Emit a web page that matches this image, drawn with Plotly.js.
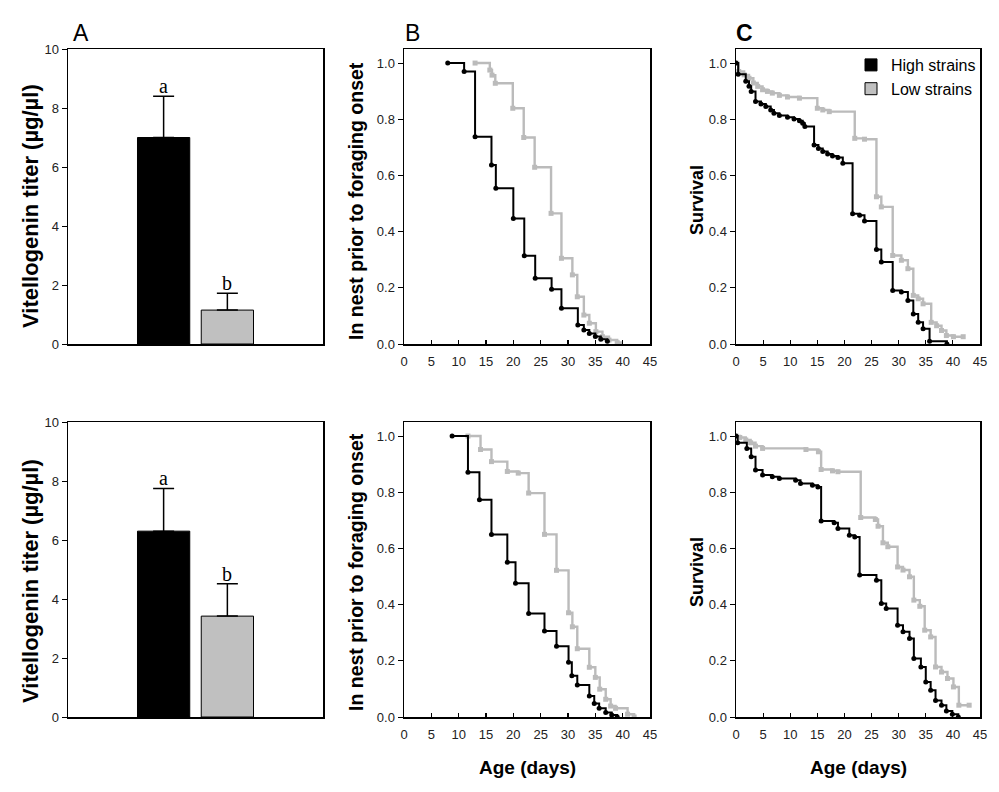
<!DOCTYPE html>
<html>
<head>
<meta charset="utf-8">
<script src="https://cdn.plot.ly/plotly-3.0.1.min.js"></script>
<style>html,body{margin:0;padding:0;background:#fff;}#chart{width:999px;height:792px;}</style>
</head>
<body>
<div id="chart"></div>
<script>
// ---------- Data ----------
const groups = ['High strains', 'Low strains'];
const groupX = [1, 2];
const vgTop = [7.0, 1.15];
const vgTopErr = [1.4, 0.57];
const vgBot = [6.3, 3.42];
const vgBotErr = [1.45, 1.1];
const sigLetters = ['a', 'b'];

// B top: in nest prior to foraging onset
const bTopHighDays = [8, 11, 13, 16, 16.8, 20, 22, 24, 27, 28.8, 31.8, 32.9, 33.9, 35, 36, 37.2];
const bTopHighVals = [1.0, 0.97, 0.738, 0.637, 0.554, 0.447, 0.314, 0.234, 0.195, 0.127, 0.068, 0.05, 0.037, 0.027, 0.017, 0.01];
const bTopLowDays = [13, 15.7, 16.1, 16.7, 19.9, 21.9, 23.9, 26.9, 28.8, 30.8, 31.7, 32.9, 33.9, 35.1, 36.3, 37.5, 39.0, 39.6];
const bTopLowVals = [1.0, 0.975, 0.957, 0.928, 0.839, 0.735, 0.629, 0.465, 0.305, 0.246, 0.168, 0.103, 0.074, 0.044, 0.026, 0.014, 0.005, 0.0];

// C top: survival
const cTopHighDays = [0, 0.4, 1.8, 2.4, 2.8, 3.6, 4.6, 5.5, 6.4, 7.0, 8.0, 9.5, 10.7, 11.7, 12.3, 12.7, 14.4, 15.2, 16.0, 16.9, 17.8, 18.8, 19.7, 21.5, 22.8, 23.7, 25.9, 26.8, 28.9, 30.5, 31.7, 32.7, 33.6, 34.5, 35.7, 38.9];
const cTopHighVals = [1.0, 0.96, 0.935, 0.917, 0.899, 0.863, 0.854, 0.845, 0.833, 0.821, 0.813, 0.807, 0.801, 0.795, 0.786, 0.774, 0.708, 0.696, 0.685, 0.676, 0.669, 0.664, 0.643, 0.464, 0.458, 0.438, 0.336, 0.292, 0.190, 0.185, 0.155, 0.107, 0.077, 0.054, 0.01, 0.0];
const cTopLowDays = [0, 0.5, 1.5, 2.4, 3.2, 4.0, 4.9, 5.8, 6.7, 8.0, 9.5, 11.7, 15.0, 16.0, 17.2, 21.9, 23.7, 25.9, 26.8, 28.9, 30.5, 31.7, 32.7, 33.6, 34.5, 36.0, 37.0, 37.9, 38.8, 40.1, 41.9];
const cTopLowVals = [1.0, 0.970, 0.958, 0.946, 0.929, 0.917, 0.905, 0.899, 0.893, 0.885, 0.879, 0.875, 0.839, 0.833, 0.827, 0.732, 0.729, 0.524, 0.488, 0.315, 0.298, 0.268, 0.173, 0.161, 0.143, 0.077, 0.065, 0.048, 0.030, 0.026, 0.026];

// B bottom
const bBotHighDays = [8.8, 11.7, 13.8, 16.0, 18.9, 20.4, 22.8, 25.7, 27.9, 30.1, 30.7, 31.7, 33.9, 34.8, 35.7, 36.9, 38.0, 39.0];
const bBotHighVals = [1.0, 0.871, 0.773, 0.650, 0.551, 0.476, 0.368, 0.306, 0.252, 0.195, 0.147, 0.114, 0.075, 0.048, 0.031, 0.016, 0.007, 0.0];
const bBotLowDays = [11.7, 14.0, 16.0, 18.9, 20.9, 22.8, 25.7, 27.9, 30.1, 30.8, 31.7, 33.9, 35.0, 35.8, 36.9, 37.8, 38.7, 40.9, 42.1];
const bBotLowVals = [1.0, 0.952, 0.909, 0.874, 0.868, 0.797, 0.650, 0.522, 0.371, 0.321, 0.243, 0.177, 0.141, 0.099, 0.063, 0.039, 0.031, 0.01, 0.0];

// C bottom
const cBotHighDays = [0, 0.3, 2.0, 2.8, 3.6, 4.9, 6.7, 8.0, 11.0, 11.9, 14.1, 15.1, 15.7, 18.1, 18.8, 20.9, 21.9, 22.8, 25.9, 26.8, 27.7, 29.8, 30.8, 32.0, 32.8, 34.1, 35.0, 35.9, 36.8, 37.9, 38.8, 39.9, 41.0];
const cBotHighVals = [1.0, 0.976, 0.956, 0.926, 0.879, 0.861, 0.855, 0.849, 0.843, 0.831, 0.825, 0.819, 0.698, 0.691, 0.671, 0.647, 0.641, 0.505, 0.487, 0.404, 0.386, 0.327, 0.303, 0.279, 0.208, 0.178, 0.125, 0.095, 0.059, 0.042, 0.021, 0.01, 0.0];
const cBotLowDays = [0, 0.7, 1.8, 2.7, 3.6, 4.9, 12.9, 15.2, 15.7, 17.8, 18.8, 23.0, 25.7, 26.2, 27.1, 28.0, 29.8, 30.8, 32.0, 32.8, 33.9, 34.8, 35.9, 36.8, 37.9, 39.0, 40.1, 41.1, 43.0];
const cBotLowVals = [1.0, 0.995, 0.986, 0.976, 0.964, 0.956, 0.952, 0.944, 0.881, 0.876, 0.873, 0.710, 0.703, 0.679, 0.620, 0.606, 0.534, 0.523, 0.499, 0.416, 0.394, 0.309, 0.285, 0.178, 0.160, 0.137, 0.107, 0.042, 0.042];

const surfTicks = [0, 0.2, 0.4, 0.6, 0.8, 1.0];
const ageTicks = [0, 5, 10, 15, 20, 25, 30, 35, 40, 45];
const vgTicks = [0, 2, 4, 6, 8, 10];

// ---------- Styles ----------
const BLACK = '#000000';
const GRAY = '#bbbbbb';
const BARGRAY = '#c0c0c0';
const FONT = 'Liberation Sans, Arial, sans-serif';

function barTrace(xa, ya, idx, vals, errs, show) {
  return {
    type: 'bar', xaxis: xa, yaxis: ya,
    x: [groupX[idx]], y: [vals[idx]], width: 0.82,
    name: groups[idx], showlegend: show, legendrank: idx + 1,
    marker: {color: idx === 0 ? BLACK : BARGRAY, line: {color: BLACK, width: 1}},
    error_y: {type: 'data', symmetric: false, array: [errs[idx]], arrayminus: [0],
              color: BLACK, thickness: 1.5, width: 10.5},
    hoverinfo: 'skip'
  };
}
function stepTrace(xa, ya, days, vals, high) {
  return {
    type: 'scatter', mode: 'lines+markers', xaxis: xa, yaxis: ya,
    x: days, y: vals, showlegend: false,
    line: {shape: 'hv', color: high ? BLACK : GRAY, width: high ? 2 : 2.4},
    marker: {color: high ? BLACK : GRAY, size: 5, symbol: high ? 'circle' : 'square'},
    hoverinfo: 'skip'
  };
}

const data = [
  barTrace('x', 'y', 0, vgTop, vgTopErr, true),
  barTrace('x', 'y', 1, vgTop, vgTopErr, true),
  barTrace('x4', 'y4', 0, vgBot, vgBotErr, false),
  barTrace('x4', 'y4', 1, vgBot, vgBotErr, false),
  stepTrace('x2', 'y2', bTopLowDays, bTopLowVals, false),
  stepTrace('x2', 'y2', bTopHighDays, bTopHighVals, true),
  stepTrace('x3', 'y3', cTopLowDays, cTopLowVals, false),
  stepTrace('x3', 'y3', cTopHighDays, cTopHighVals, true),
  stepTrace('x5', 'y5', bBotLowDays, bBotLowVals, false),
  stepTrace('x5', 'y5', bBotHighDays, bBotHighVals, true),
  stepTrace('x6', 'y6', cBotLowDays, cBotLowVals, false),
  stepTrace('x6', 'y6', cBotHighDays, cBotHighVals, true)
];

const W = 999, H = 792;
const colA = [68 / W, 323 / W], colB = [404 / W, 650 / W], colC = [736 / W, 980 / W];
const rowTop = [1 - 344 / H, 1 - 49 / H], rowBot = [1 - 717 / H, 1 - 422 / H];

const tickFont = {family: FONT, size: 13, color: '#222'};
function baseAxis(extra) {
  return Object.assign({
    showline: true, mirror: true, linecolor: BLACK, linewidth: 1.5,
    showgrid: false, zeroline: false, tickfont: tickFont, tickcolor: BLACK,
    fixedrange: true
  }, extra);
}
function barX(dom, anchor) {
  return baseAxis({domain: dom, anchor: anchor, range: [-0.5, 3.5], showticklabels: false, ticks: ''});
}
function vgY(dom, anchor) {
  return baseAxis({domain: dom, anchor: anchor, range: [0, 10], tickvals: vgTicks, ticks: 'outside', ticklen: 5, tickwidth: 1});
}
function ageX(dom, anchor) {
  return baseAxis({domain: dom, anchor: anchor, range: [0, 45], tickvals: ageTicks, ticks: 'inside', ticklen: 4, tickwidth: 1.2, ticklabelstandoff: 5});
}
function survY(dom, anchor) {
  return baseAxis({domain: dom, anchor: anchor, range: [0, 1.05], tickvals: surfTicks, tickformat: '.1f', ticks: 'outside', ticklen: 5, tickwidth: 1});
}

function yTitle(text, xpx, ypx, size) {
  return {text: text, xref: 'paper', yref: 'paper', x: xpx / W, y: 1 - ypx / H,
          xanchor: 'center', yanchor: 'middle', textangle: -90, showarrow: false,
          font: {family: FONT, size: size, color: BLACK, weight: 'bold'}};
}
function xTitle(text, dom) {
  return {text: text, xref: 'paper', yref: 'paper', x: (dom[0] + dom[1]) / 2, y: 1 - 767 / H,
          xanchor: 'center', yanchor: 'middle', showarrow: false,
          font: {family: FONT, size: 19, color: BLACK, weight: 'bold'}};
}
function panelLabel(text, xpx, bold) {
  return {text: text, xref: 'paper', yref: 'paper', x: xpx / W, y: 1 - 33 / H,
          xanchor: 'center', yanchor: 'middle', showarrow: false,
          font: {family: FONT, size: 23, color: BLACK, weight: bold ? 'bold' : 'normal'}};
}
function sigLetter(xa, ya, idx, vals, errs) {
  return {text: sigLetters[idx], xref: xa, yref: ya, x: groupX[idx], y: vals[idx] + errs[idx],
          xanchor: 'center', yanchor: 'bottom', yshift: -3, showarrow: false,
          font: {family: 'Liberation Serif, Times New Roman, serif', size: 20, color: BLACK}};
}

const layout = {
  width: W, height: H,
  margin: {l: 0, r: 0, t: 0, b: 0},
  paper_bgcolor: '#ffffff', plot_bgcolor: '#ffffff',
  barmode: 'overlay',
  showlegend: true,
  legend: {x: 851 / W, y: 1 - 48 / H, xanchor: 'left', yanchor: 'top',
           font: {family: FONT, size: 16, color: BLACK}, bgcolor: 'rgba(0,0,0,0)',
           borderwidth: 0, tracegroupgap: 0, itemclick: false, itemdoubleclick: false},
  xaxis: barX(colA, 'y'), yaxis: vgY(rowTop, 'x'),
  xaxis2: ageX(colB, 'y2'), yaxis2: survY(rowTop, 'x2'),
  xaxis3: ageX(colC, 'y3'), yaxis3: survY(rowTop, 'x3'),
  xaxis4: barX(colA, 'y4'), yaxis4: vgY(rowBot, 'x4'),
  xaxis5: ageX(colB, 'y5'), yaxis5: survY(rowBot, 'x5'),
  xaxis6: ageX(colC, 'y6'), yaxis6: survY(rowBot, 'x6'),
  annotations: [
    panelLabel('A', 81, false), panelLabel('B', 412, false), panelLabel('C', 744, true),
    yTitle('Vitellogenin titer (µg/µl)', 30, 206, 22), yTitle('Vitellogenin titer (µg/µl)', 30, 581, 22),
    yTitle('In nest prior to foraging onset', 356, 201, 19.5), yTitle('In nest prior to foraging onset', 356, 572, 19.5),
    yTitle('Survival', 697, 200, 18), yTitle('Survival', 697, 572, 18),
    xTitle('Age (days)', colB), xTitle('Age (days)', colC),
    sigLetter('x', 'y', 0, vgTop, vgTopErr), sigLetter('x', 'y', 1, vgTop, vgTopErr),
    sigLetter('x4', 'y4', 0, vgBot, vgBotErr), sigLetter('x4', 'y4', 1, vgBot, vgBotErr)
  ]
};

Plotly.newPlot('chart', data, layout, {displayModeBar: false, staticPlot: true});
</script>
</body>
</html>
